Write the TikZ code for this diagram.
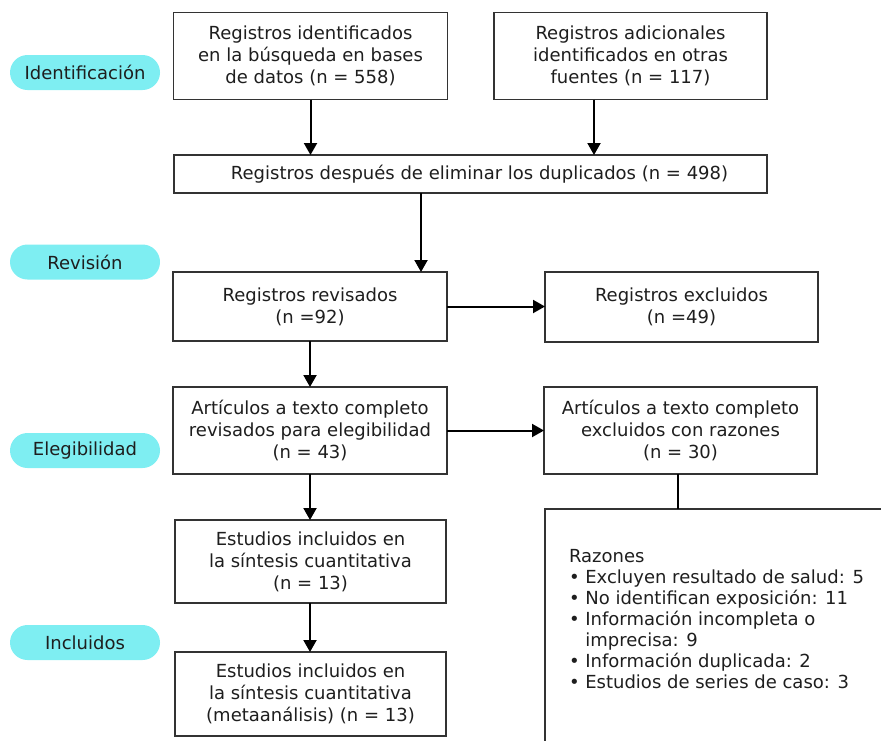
\documentclass[tikz,border=0pt]{standalone}
\usepackage{fontspec}
\setmainfont{DejaVu Sans}
\usetikzlibrary{arrows.meta, positioning}
\definecolor{fasecian}{HTML}{7EEEF2}
\definecolor{lineagris}{HTML}{333333}
\definecolor{textogris}{HTML}{1E1E1E}

\begin{document}
\begin{tikzpicture}[
        x=0.5pt, y=-0.5pt,
        font=\fontsize{9}{11}\selectfont,
        every node/.style={align=center, inner sep=0pt, outer sep=0pt, text=textogris},
        % ===== Geometría fija (coordenadas en px de la figura, 881 x 740) =====
        % Columna izquierda: centro x = 310; columna derecha: centro x = 681
        % ============= Estilos =============
        flcaja/.style={rectangle, draw=lineagris, line width=0.75pt, fill=white,
                       minimum width=137pt, minimum height=43.5pt},
        flfase/.style={rectangle, rounded corners=8.75pt, fill=fasecian,
                       minimum width=75pt, minimum height=17.5pt},
        flflecha/.style={-{Triangle[length=6pt,width=6.5pt]},
                         draw=black, line width=1pt},
        fllinea/.style={draw=black, line width=1pt},
        flmarco/.style={rectangle, draw=lineagris, line width=0.75pt,
                        minimum width=200pt, minimum height=140pt, anchor=north west}
    ]
        \useasboundingbox (0,0) rectangle (881,740);
        \clip (0,0) rectangle (881,740);

        % ===== Fases =====
        \node[flfase] (fident) at (85,72.5) {Identificación};
        \node[flfase] (frevis) at (85,262) {Revisión};
        \node[flfase] (felegi) at (85,450.5) {Elegibilidad};
        \node[flfase] (fincl)  at (85,642.5) {Incluidos};

        % ===== Cajas =====
        \node[flcaja] (ident) at (310.5,56)
            {Registros identificados\\en la búsqueda en bases\\de datos (n = 558)};
        \node[flcaja, minimum width=136.5pt] (extra) at (630.5,56)
            {Registros adicionales\\identificados en otras\\fuentes (n = 117)};
        \node[flcaja, minimum width=296.5pt, minimum height=19pt] (dupl) at (470.5,174)
            {\hspace{9pt}Registros después de eliminar los duplicados (n = 498)};
        \node[flcaja, minimum height=34.5pt] (revis) at (310,306.5)
            {Registros revisados\\(n =92)};
        \node[flcaja, minimum width=136.5pt, minimum height=35pt] (exclu) at (681.5,307)
            {Registros excluidos\\(n =49)};
        \node[flcaja] (artic) at (310,430.5)
            {Artículos a texto completo\\revisados para elegibilidad\\(n = 43)};
        \node[flcaja, minimum width=136.5pt] (artexc) at (680.5,430.5)
            {Artículos a texto completo\\excluidos con razones\\(n = 30)};
        \node[flcaja, minimum width=135.5pt, minimum height=41.5pt] (sint) at (310.5,561.5)
            {Estudios incluidos en\\la síntesis cuantitativa\\(n = 13)};
        \node[flcaja, minimum width=135.5pt, minimum height=42pt] (meta) at (310.5,694)
            {Estudios incluidos en\\la síntesis cuantitativa\\(metaanálisis) (n = 13)};

        % ===== Razones (la caja sigue fuera del borde) =====
        \node[flmarco] (razones) at (545,509) {};
        \node[anchor=north west, align=left, font=\fontsize{9}{10.5}\selectfont] (razlista)
            at ([xshift=12pt,yshift=-20pt]razones.north west)
            {Razones\\
             \textbullet\ Excluyen resultado de salud: 5\\
             \textbullet\ No identifican exposición: 11\\
             \textbullet\ Información incompleta o\\
             \phantom{\textbullet\ }imprecisa: 9\\
             \textbullet\ Información duplicada: 2\\
             \textbullet\ Estudios de series de caso: 3};

        % ===== Conectores =====
        \coordinate (pextra) at ([xshift=-18.25pt]extra.south);
        \coordinate (previs) at ([xshift=55.5pt]revis.north);
        \coordinate (partexc) at ([xshift=-1.25pt]artexc.south);
        \draw[flflecha] (ident.south) -- (ident.south |- dupl.north);
        \draw[flflecha] (pextra) -- (pextra |- dupl.north);
        \draw[flflecha] (previs |- dupl.south) -- (previs);
        \draw[flflecha] (revis.east) -- (revis.east -| exclu.west);
        \draw[flflecha] (revis.south) -- (artic.north);
        \draw[flflecha] (artic.east) -- (artic.east -| artexc.west);
        \draw[flflecha] (artic.south) -- (artic.south |- sint.north);
        \draw[flflecha] (sint.south -| artic.south) -- (artic.south |- meta.north);
        \draw[fllinea] (partexc) -- (partexc |- razones.north);
    \end{tikzpicture}
\end{document}
